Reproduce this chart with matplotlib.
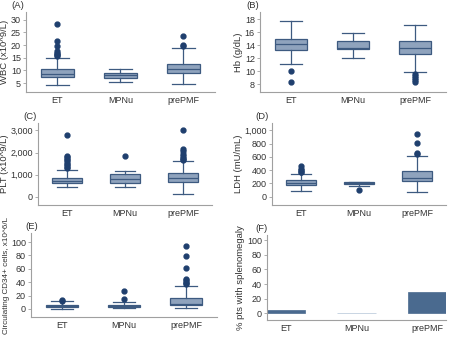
import matplotlib
matplotlib.use("Agg")
import matplotlib.pyplot as plt
from matplotlib.ticker import FuncFormatter

groups = ["ET", "MPNu", "prePMF"]

# box stats: (whislo, q1, med, q3, whishi, outliers)
wbc = [(4.2, 7.5, 8.5, 10.5, 15.0, [28.2, 21.5, 19.5, 17.5, 17.0, 16.5, 16.0, 15.5]),
       (5.5, 7.2, 8.0, 9.0, 10.7, []),
       (4.8, 8.8, 10.5, 12.5, 18.7, [23.6, 20.2, 19.7])]
hb = [(11.1, 13.2, 14.2, 15.0, 17.7, [10.0, 8.4]),
      (12.1, 13.4, 13.5, 14.6, 15.8, []),
      (9.8, 12.7, 13.6, 14.6, 17.1, [9.6, 9.3, 9.0, 8.7, 8.4])]
plt_ = [(420, 620, 720, 840, 1210, [2800, 1850, 1780, 1720, 1650, 1580, 1500, 1420, 1350, 1280]),
        (420, 620, 780, 1020, 1180, [1830]),
        (100, 650, 830, 1050, 1600, [3000, 2150, 2050, 1950, 1850, 1750, 1700, 1650])]
ldh = [(80, 175, 210, 245, 350, [470, 420, 400, 380, 370]),
       (155, 185, 200, 215, 225, [100]),
       (70, 235, 275, 395, 620, [940, 810, 660, 640])]
cd34 = [(0.5, 3.0, 5.0, 6.5, 12.0, [14.0, 12.5]),
        (1.0, 3.0, 4.5, 6.0, 10.5, [26.5, 15.5]),
        (1.0, 5.5, 7.0, 17.0, 35.0, [94, 79, 62, 45, 43, 41, 39, 37])]
spleno = [5, 1, 29]

panels = [
    ("(A)", "WBC (x10^9/L)", wbc, (1.5, 33), [5, 10, 15, 20, 25, 30], False, (26, 215, 12, 92), 11),
    ("(B)", "Hb (g/dL)", hb, (6.8, 19.1), [8, 10, 12, 14, 16, 18], False, (260, 446, 12, 92), 246),
    ("(C)", "PLT (x10^9/L)", plt_, (-377, 3336), [0, 1000, 2000, 3000], True, (38, 212, 123, 205), 23),
    ("(D)", "LDH (mU/mL)", ldh, (-125, 1112), [0, 200, 400, 600, 800, 1000], True, (272, 446, 123, 205), 255),
    ("(E)", "Circulating CD34+ cells, x10^6/L", cd34, (-12, 113.6), [0, 20, 40, 60, 80, 100], False, (31, 217, 233, 317), 25),
]

W, H = 450, 339
fig = plt.figure(figsize=(W / 100, H / 100), dpi=100)
plt.rcParams['font.family'] = ['Liberation Sans', 'DejaVu Sans']

edge = "#3d5a80"
fill = "#8fa3bd"
dot = "#1f3f6e"
spine = "#a0a0a0"
txt = "#333333"
fs = 6.5
lfs = 6.8

def mk_ax(box):
    l, r, t, b = box
    ax = fig.add_axes([l / W, 1 - b / H, (r - l) / W, (b - t) / H])
    for s in ["top", "right"]:
        ax.spines[s].set_visible(False)
    for s in ["left", "bottom"]:
        ax.spines[s].set_color(spine)
        ax.spines[s].set_linewidth(0.8)
    ax.tick_params(axis="y", length=2.5, width=0.6, color=spine, labelsize=fs, labelcolor=txt, pad=1.2)
    ax.tick_params(axis="x", length=0, labelsize=fs, labelcolor=txt, pad=3)
    return ax

def panel_label(lab, x, ytop):
    fig.text(x / W, 1 - (ytop - 2) / H, lab, fontsize=lfs, color=txt, ha="left", va="bottom")

for lab, ylab, data, ylim, yt, comma, box, lx in panels:
    ax = mk_ax(box)
    stats = []
    for g, (lo, q1, med, q3, hi, fl) in zip(groups, data):
        stats.append(dict(label=g, whislo=lo, q1=q1, med=med, q3=q3, whishi=hi, fliers=fl))
    ax.bxp(stats, positions=[1, 2, 3], widths=0.52, patch_artist=True,
           boxprops=dict(facecolor=fill, edgecolor=edge, linewidth=0.9),
           medianprops=dict(color=edge, linewidth=0.9),
           whiskerprops=dict(color=edge, linewidth=0.9),
           capprops=dict(color=edge, linewidth=0.9),
           capwidths=0.36,
           flierprops=dict(marker="o", markerfacecolor=dot, markeredgecolor=dot, markersize=3.5))
    ax.set_xlim(0.5, 3.5)
    ax.set_ylim(*ylim)
    ax.set_yticks(yt)
    if comma:
        ax.yaxis.set_major_formatter(FuncFormatter(lambda v, p: f"{int(v):,}"))
    if lab == "(E)":
        ax.set_ylabel(ylab, fontsize=5.9, color=txt)
        ax.yaxis.set_label_coords((10 - box[0]) / (box[1] - box[0]), 0.5)
    else:
        ax.set_ylabel(ylab, fontsize=lfs, color=txt, labelpad=1.2)
    panel_label(lab, lx, box[2])

# Panel F
fbox = (267, 446, 235, 320)
ax = mk_ax(fbox)
colors = ["#4a6a8f", "#b3c5d8", "#4a6a8f"]
ax.bar([1, 2, 3], spleno, width=0.54, color=colors, edgecolor=colors, linewidth=0.5)
ax.set_xticks([1, 2, 3])
ax.set_xticklabels(groups)
ax.set_xlim(0.73, 3.27)
ax.set_ylim(-9, 107)
ax.set_yticks([0, 20, 40, 60, 80, 100])
ax.set_ylabel("% pts with splenomegaly", fontsize=lfs, color=txt, labelpad=1.2)
panel_label("(F)", 255, fbox[2])

fig.savefig("out.png", dpi=100)
